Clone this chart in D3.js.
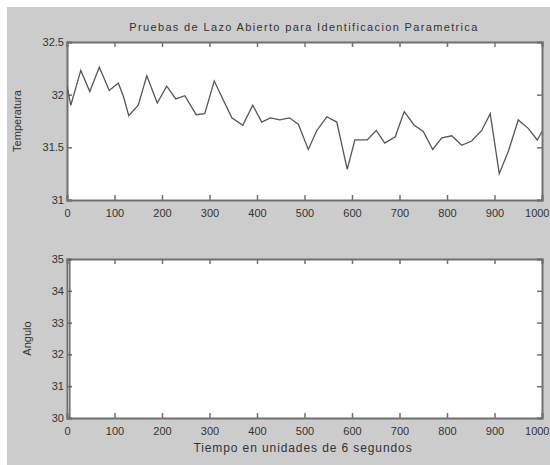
<!DOCTYPE html>
<html><head><meta charset="utf-8">
<script src="https://cdn.jsdelivr.net/npm/d3@7"></script>
<style>body{margin:0;background:#fff}svg{display:block}text{font-family:"Liberation Sans",Arial,sans-serif;fill:#333}</style>
</head><body>
<script>
const title = "Pruebas de Lazo Abierto para Identificacion Parametrica";
const xLabel = "Tiempo en unidades de 6 segundos";
const yLabelTop = "Temperatura";
const yLabelBottom = "Angulo";
const xTicks = [0,100,200,300,400,500,600,700,800,900,1000];
const yTicksTop = [31,31.5,32,32.5];
const yTicksBottom = [30,31,32,33,34,35];
const time = [0,8,29,48,68,89,108,119,130,150,168,190,210,229,248,272,290,310,329,347,370,391,410,428,448,468,487,508,526,547,568,590,606,632,651,669,691,710,731,750,770,789,810,831,852,873,891,910,929,950,971,990,1000];
const temperature = [32.08,31.9,32.23,32.03,32.26,32.04,32.11,31.98,31.8,31.9,32.18,31.92,32.08,31.96,31.99,31.81,31.82,32.13,31.95,31.78,31.71,31.9,31.74,31.78,31.76,31.78,31.72,31.48,31.66,31.79,31.74,31.29,31.57,31.57,31.66,31.54,31.6,31.84,31.71,31.65,31.48,31.59,31.61,31.52,31.56,31.66,31.82,31.25,31.46,31.76,31.68,31.57,31.65];
const angleTime = [6,6];
const angle = [29,36];

const W=550,H=465;
const svg=d3.select("body").append("svg").attr("width",W).attr("height",H);
svg.append("rect").attr("x",7).attr("y",7).attr("width",W-7).attr("height",H-7).attr("fill","#cccccc");

const L=67,R=542;
const x=d3.scaleLinear().domain([0,1000]).range([L,R]);
function panel(top,bottom,yDomain,yTicks,yLabel,ylx,series,sx,sy,id){
  const y=d3.scaleLinear().domain(yDomain).range([bottom,top]);
  svg.append("rect").attr("x",L).attr("y",top).attr("width",R-L).attr("height",bottom-top).attr("fill","#fff");
  svg.append("clipPath").attr("id",id).append("rect").attr("x",L).attr("y",top).attr("width",R-L).attr("height",bottom-top);
  const g=svg.append("g");
  const tl=5;
  const ax=g.append("g").attr("transform",`translate(0,${bottom})`).call(d3.axisBottom(x).tickValues(xTicks).tickSize(-tl).tickPadding(9).tickFormat(d3.format("d")));
  const axt=g.append("g").attr("transform",`translate(0,${top})`).call(d3.axisTop(x).tickValues(xTicks).tickSize(-tl).tickFormat(""));
  const ay=g.append("g").attr("transform",`translate(${L},0)`).call(d3.axisLeft(y).tickValues(yTicks).tickSize(-tl).tickPadding(5).tickFormat(d=>d3.format("")(d)));
  const ayr=g.append("g").attr("transform",`translate(${R},0)`).call(d3.axisRight(y).tickValues(yTicks).tickSize(-tl).tickFormat(""));
  [ax,axt,ay,ayr].forEach(a=>{a.select(".domain").attr("stroke","#707070").attr("stroke-width",2);a.selectAll(".tick line").attr("stroke","#707070").attr("stroke-width",1.5);a.selectAll("text").attr("font-size",11).attr("fill","#333").attr("font-family","Liberation Sans, Arial, sans-serif");});
  ay.selectAll(".tick text").attr("dx",2);
  ax.selectAll(".tick text").filter(d=>d===1000).attr("text-anchor","end").attr("dx",7);
  svg.append("path").datum(sx.map((t,i)=>[t,sy[i]])).attr("clip-path",`url(#${id})`)
    .attr("d",d3.line().x(d=>x(d[0])).y(d=>y(d[1]))).attr("fill","none").attr("stroke","#555").attr("stroke-width",1.3);
  svg.append("text").attr("transform",`translate(${ylx},${(top+bottom)/2}) rotate(-90)`).attr("text-anchor","middle").attr("font-size",11).text(yLabel);
}
panel(42,200,[31,32.5],yTicksTop,yLabelTop,21,time,time,temperature,"c1");
panel(259,418,[30,35],yTicksBottom,yLabelBottom,31,angleTime,angleTime,angle,"c2");
svg.append("text").attr("x",304).attr("y",31).attr("text-anchor","middle").attr("font-size",11).attr("letter-spacing",1.35).text(title);
svg.append("text").attr("x",303).attr("y",452).attr("text-anchor","middle").attr("font-size",12).attr("letter-spacing",0.9).text(xLabel);
</script>
</body></html>
